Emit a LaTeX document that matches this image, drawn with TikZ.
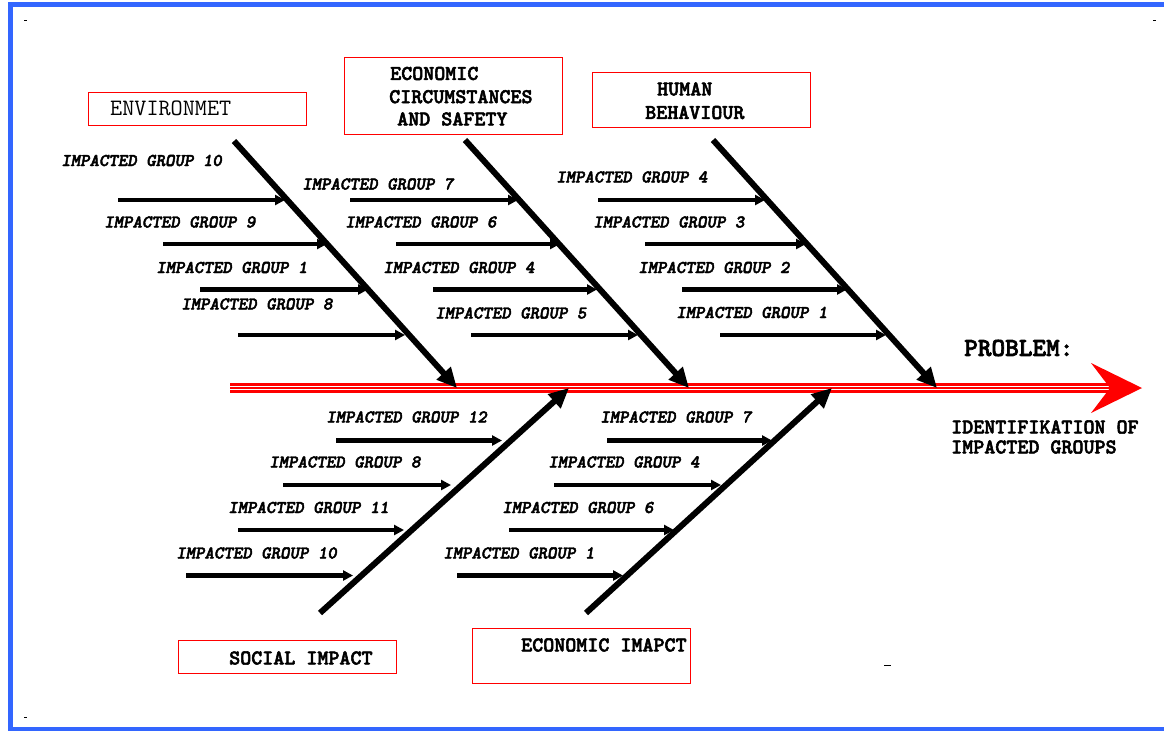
\documentclass[tikz,border=0pt]{standalone}
\usepackage{fontspec}
\newfontfamily\monobold{lmmonolt10-bold}[Extension=.otf, FakeBold=2.5, ItalicFont=lmmonolt10-boldoblique, SlantedFont=lmmonolt10-boldoblique]
\usetikzlibrary{arrows.meta}
\definecolor{frameblue}{RGB}{51,102,255}
\begin{document}
\begin{tikzpicture}[x=1pt,y=-1pt,
  catbox/.style={draw=red, line width=1pt, inner sep=0pt},
  bone/.style={line width=6pt, -{Triangle[length=20pt,width=18pt]}},
  twig/.style={line width=4.5pt, -{Triangle[length=10pt,width=10pt]}},
  grp/.style={anchor=west, inner sep=0pt, font=\monobold\itshape\fontsize{18}{20}\selectfont},
  cat/.style={anchor=west, inner sep=0pt, font=\monobold\fontsize{21}{24}\selectfont},
  catlight/.style={anchor=west, inner sep=0pt, font=\ttfamily\fontsize{23.5}{26}\selectfont},
  goal/.style={anchor=west, inner sep=0pt, font=\monobold\fontsize{26}{28}\selectfont},
]
\useasboundingbox (0,0) rectangle (1164,731);

% page frame
\fill[frameblue] (8,2) rectangle (1170,7);
\fill[frameblue] (8,2) rectangle (13,731);
\fill[frameblue] (8,726.5) rectangle (1170,730.5);

% corner marks
\fill (24,19.5) rectangle (26.5,21);
\fill (1153,19.5) rectangle (1155.5,21);
\fill (24,716.5) rectangle (26.5,718);
\fill (884,664.5) rectangle (891,666);

% main spine (triple red line) with head
\coordinate (spineS) at (230,388);
\coordinate (spineN) at (1110,388);
\coordinate (spineT) at (1142,388);
\draw[red, line width=10pt] (spineS) -- (spineN);
\draw[white, line width=1.1pt] ([yshift=-1.85pt]spineS) -- ([yshift=-1.85pt]spineN);
\draw[white, line width=1.1pt] ([yshift=1.85pt]spineS) -- ([yshift=1.85pt]spineN);
\fill[red] (spineN) -- (1091,363) -- (spineT) -- (1091,413) -- cycle;

% category boxes
\node[catbox, minimum width=218pt, minimum height=33pt] (envbox) at (197,108.5) {};
\node[catbox, minimum width=218pt, minimum height=77pt] (ecobox) at (453,95.5) {};
\node[catbox, minimum width=218pt, minimum height=55pt] (humbox) at (701,99.5) {};
\node[catbox, minimum width=218pt, minimum height=33pt] (socbox) at (287,656.5) {};
\node[catbox, minimum width=218pt, minimum height=55pt] (impbox) at (581,655.5) {};

% category texts
\node[catlight] (envtxt) at (110,108.5) {ENVIRONMET};
\node[cat] (eco1) at (390,73.5) {ECONOMIC};
\node[cat] (eco2) at (389,96.7) {CIRCUMSTANCES};
\node[cat] (eco3) at (397,119) {AND SAFETY};
\node[cat] (hum1) at (657,89) {HUMAN};
\node[cat] (hum2) at (645,112.5) {BEHAVIOUR};
\node[cat] (soctxt) at (229,658) {SOCIAL IMPACT};
\node[cat] (imptxt) at (521,645) {ECONOMIC IMAPCT};

% problem statement
\node[goal] (prob) at (964,348) {PROBLEM:};
\node[cat] (id1) at (951,427) {IDENTIFIKATION OF};
\node[cat] (id2) at (951,447) {IMPACTED GROUPS};

% main bones
\coordinate (b1s) at (234,141); \coordinate (b1e) at (457,388);
\coordinate (b2s) at (465,140); \coordinate (b2e) at (689,388);
\coordinate (b3s) at (713,140); \coordinate (b3e) at (937,388);
\coordinate (b4s) at (320,613); \coordinate (b4e) at (569,388);
\coordinate (b5s) at (586,613); \coordinate (b5e) at (832,388);
\foreach \b in {1,...,5} \draw[bone] (b\b s) -- (b\b e);

% impacted groups: name / label x / label y / arrow start / arrow end / arrow y / text
\foreach \n/\lx/\ly/\ax/\bx/\ay/\txt in {
  a1/61/160.5/118/285/200/10, a2/104/222/163/327/244/9,
  a3/156/267.5/200/368/289.5/1, a4/181/304/238/405/335/8,
  m1/302/184/350/518/200/7, m2/345/222/396/560/244/6,
  m3/383/267.5/433/597/289.5/4, m4/435/313/471/638/335/5,
  r1/556/177/598/765/200/4, r2/593/222/645/806/244/3,
  r3/638/267.5/682/847/289.5/2, r4/676/312.5/720/886/335/1,
  s1/326/417/336/502/440.5/12, s2/269/462/283/451/485/8,
  s3/228/507.5/238/404/530/11, s4/176/553/186/353/575.5/10,
  e1/600/417/607/772/440.5/7, e2/548/462/554/721/485/4,
  e3/502/507.5/509/674/530/6, e4/443/553/457/623/575.5/1}
{
  \node[grp] (g\n) at (\lx,\ly) {IMPACTED GROUP \txt};
  \coordinate (t\n s) at (\ax,\ay);
  \coordinate (t\n e) at (\bx,\ay);
  \draw[twig] (t\n s) -- (t\n e);
}
\end{tikzpicture}
\end{document}
